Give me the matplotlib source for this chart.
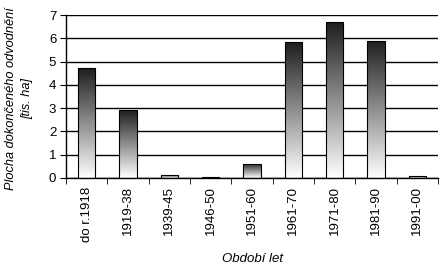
import matplotlib
matplotlib.use("Agg")
import matplotlib.pyplot as plt
import numpy as np
from matplotlib.colors import LinearSegmentedColormap

categories = ["do r.1918", "1919-38", "1939-45", "1946-50", "1951-60",
              "1961-70", "1971-80", "1981-90", "1991-00"]
values = [4.72, 2.9, 0.15, 0.03, 0.62, 5.82, 6.68, 5.9, 0.08]
yticks = [0, 1, 2, 3, 4, 5, 6, 7]

plt.rcParams['font.family'] = ['Liberation Sans', 'DejaVu Sans']

fig = plt.figure(figsize=(4.44, 2.78), dpi=100)
ax = fig.add_axes([66/444, 1-178/278, (438-66)/444, (178-15)/278])

x = np.arange(len(categories))
width = 0.42
bars = ax.bar(x, values, width=width, facecolor='none', edgecolor='black',
              linewidth=0.8, zorder=3)
cmap = LinearSegmentedColormap.from_list('g', ['#1e1e1e', '#ffffff'])
grad = np.linspace(0, 1, 256).reshape(-1, 1)
for b in bars:
    x0, y0 = b.get_x(), b.get_y()
    w, h = b.get_width(), b.get_height()
    im = ax.imshow(grad, cmap=cmap, aspect='auto', extent=[x0, x0 + w, y0, y0 + h],
                   origin='upper', zorder=2, interpolation='bilinear')
    im.set_clip_path(b)

ax.set_xlim(-0.5, len(categories) - 0.5)
ax.set_ylim(0, 7)
ax.set_yticks(yticks)
ax.set_yticklabels([str(t) for t in yticks], fontsize=9.5)
ax.yaxis.grid(True, color='black', linewidth=1)
ax.set_axisbelow(True)
ax.set_xticks(x)
ax.set_xticklabels(categories, rotation=90, fontsize=9.5)
ax.set_xticks(np.arange(-0.5, len(categories)), minor=True)
ax.tick_params(axis='x', which='major', length=0, pad=6)
ax.tick_params(axis='x', which='minor', length=4, direction='out')
ax.tick_params(axis='y', length=4, direction='out', pad=3)
for s in ['top', 'right']:
    ax.spines[s].set_visible(False)
ax.spines['left'].set_linewidth(1)
ax.spines['bottom'].set_linewidth(1)

ax.set_ylabel("Plocha dokončeného odvodnění\n[tis. ha]", fontsize=9.2,
              style='italic', linespacing=1.5)
ax.yaxis.set_label_coords(-0.088, 0.49)
ax.set_xlabel("Období let", fontsize=9.5, style='italic', labelpad=8)

fig.savefig("out.png", dpi=100)
